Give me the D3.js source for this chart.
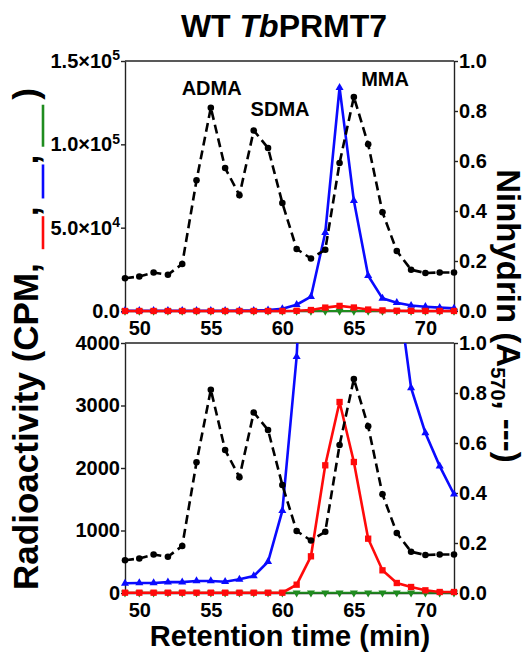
<!DOCTYPE html>
<html>
<head>
<meta charset="utf-8">
<script src="https://cdn.jsdelivr.net/npm/d3@7"></script>
<style>
body { margin: 0; background: #fff; }
text { font-family: "Liberation Sans", Arial, sans-serif; font-weight: bold; fill: #000; }
</style>
</head>
<body>
<svg id="chart" width="527" height="655"></svg>
<script>
// retention time (min) for every fraction
const times = [49, 50, 51, 52, 53, 54, 55, 56, 57, 58, 59, 60, 61, 62, 63, 64, 65, 66, 67, 68, 69, 70, 71, 72];
// ninhydrin A570 (dashed black, right axis)
const ninhydrin = [0.131, 0.138, 0.154, 0.145, 0.188, 0.523, 0.813, 0.572, 0.463, 0.722, 0.652, 0.432,
                   0.248, 0.210, 0.245, 0.592, 0.856, 0.667, 0.395, 0.240, 0.165, 0.152, 0.154, 0.154];
// radioactivity, CPM (left axis)
const cpmBlue = [155, 160, 160, 174, 174, 192, 192, 181, 219, 272, 500, 1317,
                 3780, 8600, 47000, 134000, 66200, 21200, 7600, 5000, 3280, 2560, 2030, 1580];
const cpmRed = [5, 5, 5, 5, 5, 5, 5, 5, 5, 5, 5, 5,
                133, 587, 2043, 3056, 2096, 869, 363, 160, 96, 43, 16, 16];
const cpmGreen = [4, 4, 4, 4, 4, 4, 4, 4, 4, 4, 4, 4,
                  4, 4, 4, 4, 4, 4, 4, 4, 4, 4, 4, 4];

const xTicks = [50, 55, 60, 65, 70];
const topCpmTicks = [0, 50000, 100000, 150000];
const topCpmMantissa = ["0.0", "5.0×10", "1.0×10", "1.5×10"];
const topCpmExponent = ["", "4", "5", "5"];
const bottomCpmTicks = [0, 1000, 2000, 3000, 4000];
const a570Ticks = [0, 0.2, 0.4, 0.6, 0.8, 1.0];

const peakNames = ["ADMA", "SDMA", "MMA"];
const peakLabelTimes = [55.06, 59.84, 67.18];
const peakLabelLevels = [0.864, 0.78, 0.90];

const svg = d3.select("#chart");
const x = d3.scaleLinear().domain([49, 72]).range([125, 454]);

const series = [
    {values: cpmGreen, color: "#1f8c1f", symbol: d3.symbolTriangle, rot: 180, size: 28, width: 2.2, axis: "cpm"},
    {values: cpmBlue, color: "#0a0aff", symbol: d3.symbolTriangle, rot: 0, size: 28, width: 2.6, axis: "cpm"},
    {values: cpmRed, color: "#ff0a0a", symbol: d3.symbolSquare, rot: 0, size: 40, width: 2.6, axis: "cpm"},
    {values: ninhydrin, color: "#000", symbol: d3.symbolCircle, rot: 0, size: 34, width: 2.6, axis: "a570", dash: "9,5"}
];

const panels = [
    {id: "top", top: 61, bottom: 311, cpmMax: 150000, cpmTicks: topCpmTicks, fancy: true, showPeaks: true},
    {id: "bottom", top: 343, bottom: 593, cpmMax: 4000, cpmTicks: bottomCpmTicks, fancy: false, showPeaks: false}
];

function drawPanel(p) {
    let yL = d3.scaleLinear().domain([0, p.cpmMax]).range([p.bottom, p.top]);
    let yR = d3.scaleLinear().domain([0, 1]).range([p.bottom, p.top]);

    svg.append("clipPath").attr("id", "clip-" + p.id)
        .append("rect")
        .attr("x", x.range()[0] - 5).attr("y", p.top)
        .attr("width", x.range()[1] - x.range()[0] + 10).attr("height", p.bottom - p.top + 6);

    // frame top line
    svg.append("line")
        .attr("x1", x.range()[0]).attr("x2", x.range()[1])
        .attr("y1", p.top).attr("y2", p.top)
        .attr("stroke", "#222").attr("stroke-width", 1.4);

    // left axis
    let leftAxis = d3.axisLeft(yL).tickValues(p.cpmTicks).tickSize(4).tickSizeOuter(0).tickPadding(1);
    if (p.fancy) leftAxis.tickFormat(() => "");
    else leftAxis.tickFormat(d3.format("d"));
    let gl = svg.append("g").attr("transform", "translate(" + x.range()[0] + ",0)").call(leftAxis);
    if (p.fancy) {
        gl.selectAll(".tick text").each(function(d, i) {
            let t = d3.select(this);
            t.append("tspan").text(topCpmMantissa[i]);
            if (topCpmExponent[i]) {
                t.append("tspan").text(topCpmExponent[i])
                    .attr("font-size", 14).attr("dy", "-0.55em");
            }
        });
    }

    // right axis
    let gr = svg.append("g").attr("transform", "translate(" + x.range()[1] + ",0)")
        .call(d3.axisRight(yR).tickValues(a570Ticks).tickSize(4).tickSizeOuter(0).tickPadding(1)
            .tickFormat(d3.format(".1f")));

    // bottom axis
    let gb = svg.append("g").attr("transform", "translate(0," + p.bottom + ")")
        .call(d3.axisBottom(x).tickValues(xTicks).tickSize(0).tickSizeOuter(0).tickPadding(10));

    [gl, gr, gb].forEach(function(g) {
        g.selectAll("path, line").attr("stroke", "#222").attr("stroke-width", 1.4);
        g.selectAll("text").attr("font-size", 20).attr("fill", "#000")
            .attr("font-family", "'Liberation Sans', Arial, sans-serif").attr("font-weight", "bold");
    });

    let plot = svg.append("g").attr("clip-path", "url(#clip-" + p.id + ")");

    series.forEach(function(s) {
        let yS = s.axis === "cpm" ? yL : yR;
        let pts = times.map((t, i) => [x(t), yS(s.values[i])]);
        plot.append("path")
            .attr("d", d3.line()(pts))
            .attr("fill", "none")
            .attr("stroke", s.color)
            .attr("stroke-width", s.width)
            .attr("stroke-dasharray", s.dash || null);
        plot.selectAll(null).data(pts).enter().append("path")
            .attr("d", d3.symbol().type(s.symbol).size(s.size))
            .attr("transform", d => "translate(" + d[0] + "," + d[1] + ") rotate(" + s.rot + ")")
            .attr("fill", s.color);
    });

    if (p.showPeaks) {
        peakNames.forEach(function(name, i) {
            svg.append("text")
                .attr("x", x(peakLabelTimes[i]))
                .attr("y", yR(peakLabelLevels[i]))
                .attr("text-anchor", "middle")
                .attr("font-size", 20)
                .text(name);
        });
    }
}

panels.forEach(drawPanel);

// title
let title = svg.append("text").attr("x", 284).attr("y", 37)
    .attr("text-anchor", "middle").attr("font-size", 32);
title.append("tspan").text("WT ");
title.append("tspan").attr("font-style", "italic").text("Tb");
title.append("tspan").text("PRMT7");

// x axis title
svg.append("text").attr("x", 290).attr("y", 646)
    .attr("text-anchor", "middle").attr("font-size", 29)
    .text("Retention time (min)");

// rotated label made of text pieces and coloured line keys
function richLabel(transform, parts, fontSize) {
    let g = svg.append("g").attr("transform", transform);
    let inner = g.append("g");
    let pos = 0;
    parts.forEach(function(part) {
        if (part.line) {
            inner.append("line")
                .attr("x1", pos).attr("x2", pos + part.len)
                .attr("y1", 5).attr("y2", 5)
                .attr("stroke", part.line).attr("stroke-width", 2.6);
            pos += part.len;
        } else if (part.gap) {
            pos += part.gap;
        } else {
            let t = inner.append("text")
                .attr("x", pos)
                .attr("y", part.sub ? 6 : 0)
                .attr("font-size", part.sub ? 20 : fontSize)
                .text(part.text);
            t.style("white-space", "pre");
            pos += t.node().getComputedTextLength();
        }
    });
    inner.attr("transform", "translate(" + (-pos / 2) + ",0)");
}

richLabel("translate(38,339) rotate(-90)", [
    {text: "Radioactivity (CPM,"},
    {gap: 14},
    {line: "#ff0a0a", len: 33},
    {text: ","},
    {gap: 8},
    {line: "#0a0aff", len: 34},
    {text: ","},
    {gap: 8},
    {line: "#1f8c1f", len: 42},
    {gap: 5},
    {text: ")"}
], 35);

richLabel("translate(497,316) rotate(90)", [
    {text: "Ninhydrin (A"},
    {text: "570", sub: true},
    {text: ", ---)"}
], 33);
</script>
</body>
</html>
